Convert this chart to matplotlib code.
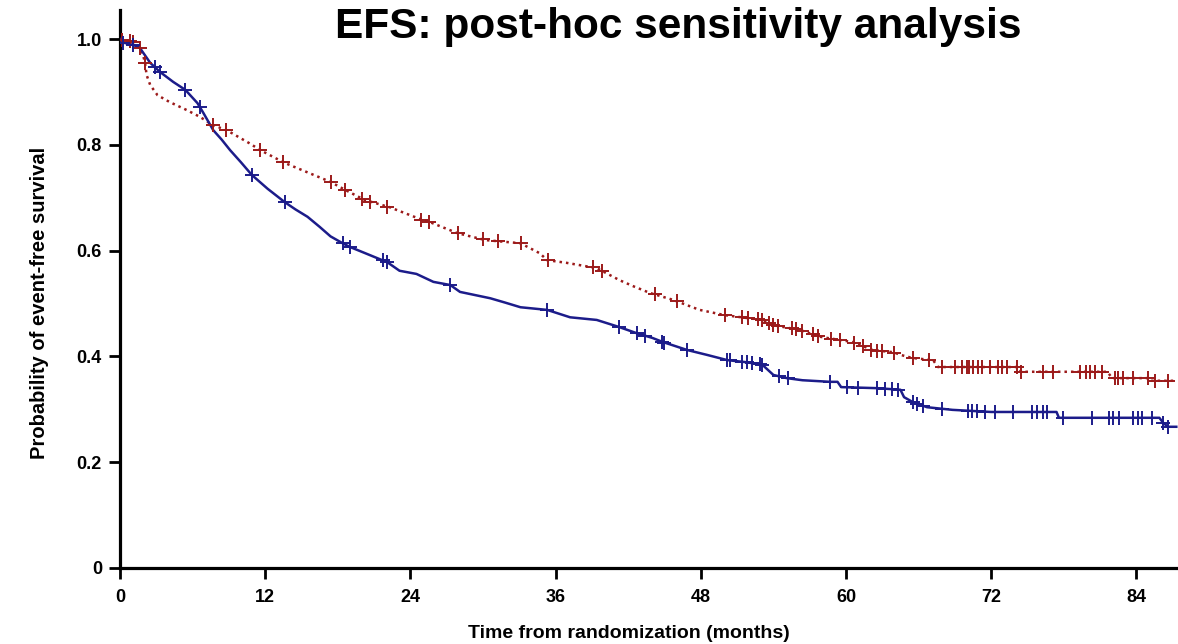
import matplotlib
matplotlib.use("Agg")
import matplotlib.pyplot as plt
import numpy as np

plt.rcParams['font.family'] = ['Liberation Sans', 'DejaVu Sans']
plt.rcParams['font.weight'] = 'bold'

# curve vertices (months, survival)
blue_x = [0, 0.15, 1.1, 1.65, 2.5, 3.3, 4.4, 5.4, 6.4, 6.9, 7.7, 8.4, 9.1,
          10.0, 10.9, 12.2, 13.6, 14.5, 15.5, 16.5, 17.4, 18.4, 19.0, 20.5,
          22.1, 23.1, 24.5, 25.9, 27.3, 28.1, 30.6, 31.8, 33.1, 35.3, 37.2,
          39.4, 41.2, 42.7, 44.0, 44.9, 46.9, 48.5, 50.2, 51.8, 53.1, 54.0,
          55.1, 56.4, 58.7, 59.3, 59.6, 62.6, 64.5, 64.8, 65.5, 66.7, 68.8,
          72.0, 77.4, 77.6, 85.9, 86.2, 86.6, 87.3]
blue_y = [1.0, 0.994, 0.989, 0.983, 0.955, 0.938, 0.919, 0.904, 0.879, 0.86,
          0.828, 0.81, 0.79, 0.767, 0.743, 0.717, 0.692, 0.678, 0.664, 0.645,
          0.627, 0.614, 0.607, 0.593, 0.578, 0.562, 0.556, 0.541, 0.535,
          0.522, 0.51, 0.502, 0.493, 0.488, 0.474, 0.469, 0.456, 0.444, 0.435,
          0.427, 0.412, 0.403, 0.393, 0.389, 0.384, 0.365, 0.359, 0.355,
          0.352, 0.352, 0.342, 0.34, 0.337, 0.323, 0.314, 0.304, 0.299, 0.295,
          0.295, 0.284, 0.284, 0.275, 0.267, 0.267]
blue_cens = [0.25, 1.1, 2.9, 3.3, 5.4, 6.6, 10.9, 13.6, 18.4, 19.0, 21.7, 22.1,
             27.3, 35.3, 41.2, 42.7, 43.4, 44.8, 45.0, 46.9, 50.2, 50.4, 51.4,
             51.8, 52.2, 52.9, 53.1, 54.5, 55.2, 58.7, 60.1, 61.0, 62.6, 63.2,
             63.8, 64.3, 65.5, 65.9, 66.4, 67.9, 70.1, 70.4, 70.8, 71.5, 72.3,
             73.8, 75.4, 75.8, 76.3, 76.6, 77.9, 80.3, 81.7, 82.1, 82.6, 83.7,
             84.1, 84.5, 85.3, 86.2, 86.6]

red_x = [0, 1.2, 1.65, 1.9, 2.07, 2.2, 2.5, 3.1, 4.1, 5.5, 6.6, 7.7, 8.8,
         10.7, 11.6, 13.6, 15.5, 17.4, 18.6, 20.2, 22.3, 25.0, 25.6, 27.9,
         30.2, 33.1, 34.7, 35.3, 36.9, 39.4, 41.3, 42.5, 43.8, 45.7, 47.9,
         50.0, 51.7, 53.1, 54.0, 56.2, 57.9, 60.6, 62.2, 63.9, 64.5, 65.5,
         67.2, 67.6, 74.2, 74.5, 81.6, 82.0, 85.0, 85.2, 87.3]
red_y = [1.0, 0.994, 0.983, 0.97, 0.955, 0.932, 0.913, 0.894, 0.881, 0.866,
         0.853, 0.837, 0.828, 0.803, 0.79, 0.766, 0.748, 0.73, 0.715, 0.696,
         0.682, 0.658, 0.654, 0.633, 0.62, 0.614, 0.595, 0.582, 0.577, 0.567,
         0.544, 0.532, 0.52, 0.507, 0.488, 0.478, 0.473, 0.469, 0.459, 0.45,
         0.437, 0.427, 0.412, 0.408, 0.403, 0.397, 0.393, 0.38, 0.38, 0.371,
         0.371, 0.359, 0.359, 0.354, 0.354]
red_cens = [0.2, 0.8, 1.1, 1.65, 2.07, 7.7, 8.8, 11.6, 13.5, 17.4, 18.6, 20.0,
            20.7, 22.1, 24.9, 25.5, 27.9, 30.0, 31.2, 33.1, 35.4, 39.1, 39.8,
            44.2, 46.0, 50.0, 51.4, 51.9, 52.7, 53.1, 53.6, 54.0, 54.4, 55.5,
            55.9, 56.4, 57.3, 57.7, 58.8, 59.5, 60.7, 61.4, 62.1, 62.6, 63.0,
            64.0, 65.5, 66.9, 67.9, 69.0, 69.6, 70.0, 70.2, 70.5, 70.9, 71.2,
            71.9, 72.6, 72.9, 73.3, 74.1, 74.5, 76.3, 77.1, 79.3, 79.8, 80.2,
            80.6, 81.2, 82.2, 82.5, 82.9, 83.7, 85.0, 85.5, 86.6]

x_ticks = [0, 12, 24, 36, 48, 60, 72, 84]
y_ticks = [0, 0.2, 0.4, 0.6, 0.8, 1.0]
y_tick_labels = ['0', '0.2', '0.4', '0.6', '0.8', '1.0']

BLUE = '#1c1c8a'
RED = '#9c1a1a'


def draw_arm(ax, x, y, cens, color, ls):
    ax.plot(x, y, color=color, lw=1.8, linestyle=ls, zorder=3)
    cy = np.interp(cens, x, y)
    ax.plot(cens, cy, linestyle='none', marker='+', color=color,
            markersize=10, markeredgewidth=1.4, zorder=4)


fig = plt.figure(figsize=(11.78, 6.44), dpi=100)
ax = fig.add_axes([120 / 1178, 1 - 568 / 644, 1058 / 1178, 558 / 644])

draw_arm(ax, red_x, red_y, red_cens, RED, (0, (1, 1.6)))
draw_arm(ax, blue_x, blue_y, blue_cens, BLUE, '-')

ax.set_xlim(0, 87.44)
ax.set_ylim(0, 1.055)
ax.set_xticks(x_ticks)
ax.set_yticks(y_ticks)
ax.set_yticklabels(y_tick_labels)
for side in ['top', 'right']:
    ax.spines[side].set_visible(False)
for side in ['left', 'bottom']:
    ax.spines[side].set_linewidth(2.3)
ax.tick_params(length=8, width=2, labelsize=13)
ax.tick_params(axis='x', pad=7)
ax.tick_params(axis='y', pad=5)
for lab in ax.get_xticklabels() + ax.get_yticklabels():
    lab.set_fontweight('bold')

fig.text(629 / 1178, 1 - 633 / 644, 'Time from randomization (months)',
         ha='center', va='center', fontsize=14, fontweight='bold')
fig.text(40 / 1178, 1 - 303 / 644, 'Probability of event-free survival',
         ha='center', va='center', rotation=90, fontsize=14.5,
         fontweight='bold')
fig.text(678 / 1178, 1 - 27 / 644, 'EFS: post-hoc sensitivity analysis',
         ha='center', va='center', fontsize=30.5, fontweight='bold')

fig.savefig('out.png', dpi=100)
